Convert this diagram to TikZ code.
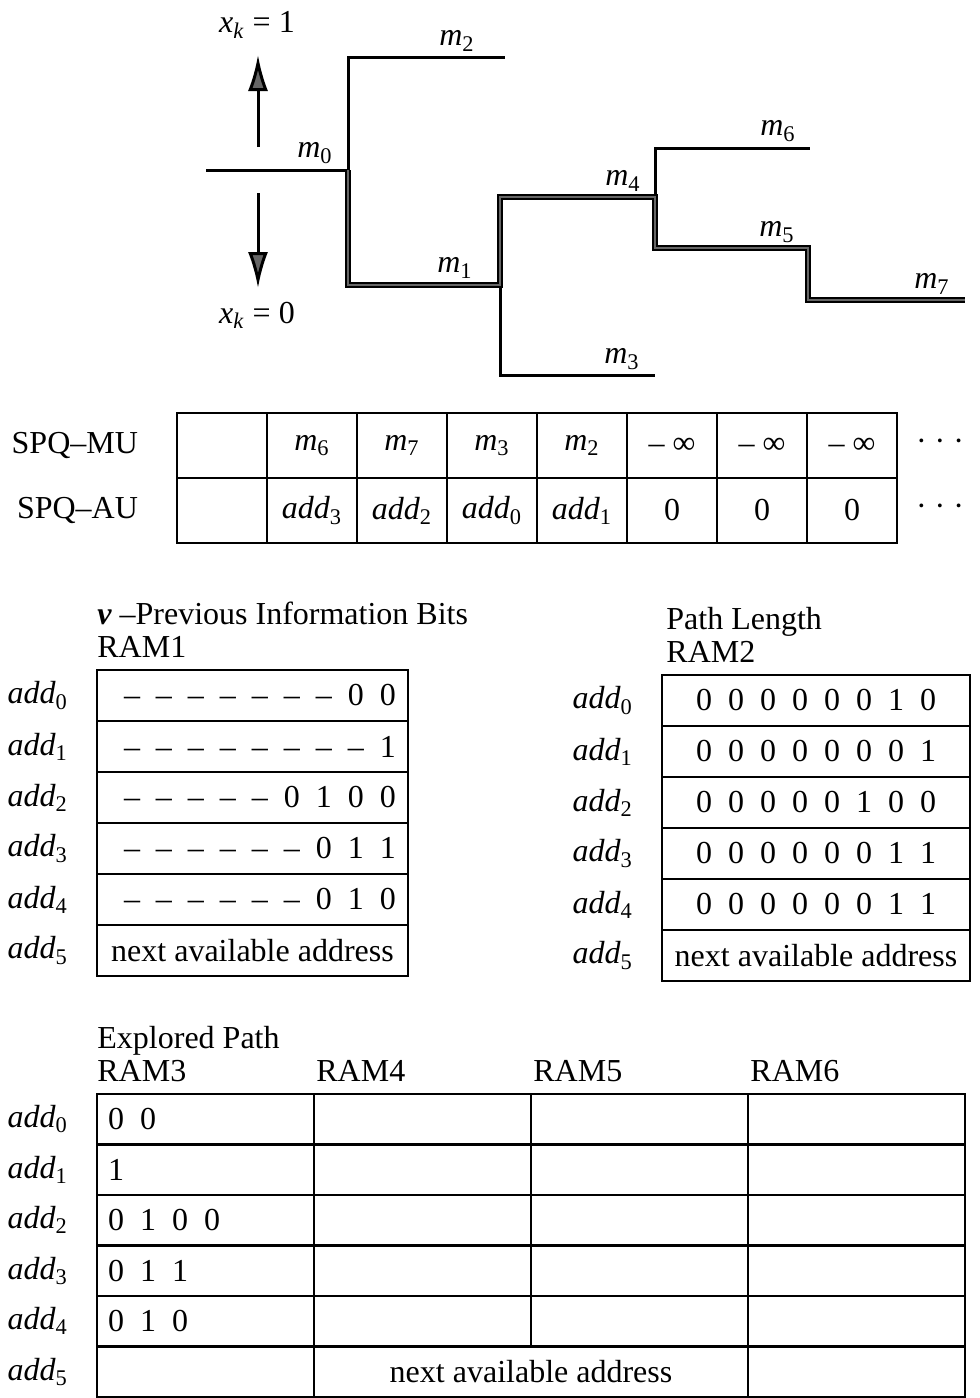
\documentclass[tikz,border=0pt]{standalone}
\usepackage{fontspec}
\setmainfont{Liberation Serif}
\usetikzlibrary{positioning,arrows.meta}
\newcommand{\ix}[2]{\textit{#1}\textsubscript{#2}}

\begin{document}
\begin{tikzpicture}[
  x=0.5pt, y=-0.5pt,
  font=\fontsize{16}{19}\selectfont,
  branch/.style={line width=1.5pt},
  survivor/.style={line width=1pt, double=black!60, double distance=0.9pt},
  dir/.style={-{Latex[length=18pt, width=10pt, fill=black!60]}, line width=1.5pt},
  bits/.style={execute at begin node={\spaceskip=#1\relax}},
  spqcell/.style={draw, line width=1.2pt, outer sep=0pt, inner sep=0pt, minimum width=45pt, minimum height=32.5pt},
  ramone/.style={draw, line width=1.2pt, outer sep=0pt, inner xsep=6pt, inner ysep=0pt, text width=143.5pt, align=right, minimum height=25.5pt},
  ramtwo/.style={draw, line width=1.2pt, outer sep=0pt, inner sep=0pt, minimum width=154pt, minimum height=25.5pt},
  ramcell/.style={draw, line width=1.2pt, outer sep=0pt, inner sep=0pt, minimum width=108.5pt, minimum height=25.25pt},
  explored/.style={ramcell, inner xsep=5.5pt, text width=97.5pt, align=left},
  head/.style={inner sep=0pt, align=left, font=\fontsize{16}{16.5}\selectfont}
]
\useasboundingbox (0,0) rectangle (980,1398);

% code tree
\coordinate (s) at (206,170);
\coordinate (j0) at (348,170);
\coordinate (j2) at (348,57);
\coordinate (e2) at (505,57);
\coordinate (j1) at (348,285);
\coordinate (k1) at (500,285);
\coordinate (k4) at (500,197);
\coordinate (k3) at (500,375);
\coordinate (e3) at (655,375);
\coordinate (n4) at (655,197);
\coordinate (n6) at (655,148);
\coordinate (e6) at (810,148);
\coordinate (n5) at (655,248);
\coordinate (p5) at (808,248);
\coordinate (p7) at (808,300);
\coordinate (e7) at (965,300);

\draw[branch] (s) -- (j0) -- (j2) -- (e2);
\draw[branch] (k1) -- (k3) -- (e3);
\draw[branch] (n4) -- (n6) -- (e6);
\draw[survivor] (j0) -- (j1) -- (k1) -- (k4) -- (n4) -- (n5) -- (p5) -- (p7) -- (e7);

\node (lm0) at (315,153) {\ix{m}{0}};
\node (lm1) at (455,268) {\ix{m}{1}};
\node (lm2) at (457,41) {\ix{m}{2}};
\node (lm3) at (622,359) {\ix{m}{3}};
\node (lm4) at (623,181) {\ix{m}{4}};
\node (lm5) at (777,232) {\ix{m}{5}};
\node (lm6) at (778,131) {\ix{m}{6}};
\node (lm7) at (932,284) {\ix{m}{7}};

\node (x1) at (257,25) {\textit{x}\textsubscript{\textit{k}} = 1};
\node (x0) at (257,315) {\textit{x}\textsubscript{\textit{k}} = 0};
\coordinate (u0) at (258,147);
\coordinate (u1) at (258,55);
\coordinate (d0) at (258,193);
\coordinate (d1) at (258,288);
\draw[dir] (u0) -- (u1);
\draw[dir] (d0) -- (d1);

% sorted path queue
\node[spqcell] (mu0) at (222,445.5) {};
\node[spqcell, right=0pt of mu0] (mu1) {\ix{m}{6}};
\node[spqcell, right=0pt of mu1] (mu2) {\ix{m}{7}};
\node[spqcell, right=0pt of mu2] (mu3) {\ix{m}{3}};
\node[spqcell, right=0pt of mu3] (mu4) {\ix{m}{2}};
\node[spqcell, right=0pt of mu4] (mu5) {– ∞};
\node[spqcell, right=0pt of mu5] (mu6) {– ∞};
\node[spqcell, right=0pt of mu6] (mu7) {– ∞};
\node[spqcell, below=0pt of mu0] (au0) {};
\node[spqcell, below=0pt of mu1] (au1) {\ix{add}{3}};
\node[spqcell, below=0pt of mu2] (au2) {\ix{add}{2}};
\node[spqcell, below=0pt of mu3] (au3) {\ix{add}{0}};
\node[spqcell, below=0pt of mu4] (au4) {\ix{add}{1}};
\node[spqcell, below=0pt of mu5] (au5) {0};
\node[spqcell, below=0pt of mu6] (au6) {0};
\node[spqcell, below=0pt of mu7] (au7) {0};
\node[left=16pt of mu0] (spqmu) {SPQ–MU};
\node[left=16pt of au0] (spqau) {SPQ–AU};
\node[right=6pt of mu7] (dotmu) {· · ·};
\node[right=6pt of au7] (dotau) {· · ·};

% RAM1
\node[ramone, bits=8pt] (r1a0) at (252.5,695.5) {– – – – – – – 0 0};
\node[ramone, bits=8pt, below=0pt of r1a0] (r1a1) {– – – – – – – – 1};
\node[ramone, bits=8pt, below=0pt of r1a1] (r1a2) {– – – – – 0 1 0 0};
\node[ramone, bits=8pt, below=0pt of r1a2] (r1a3) {– – – – – – 0 1 1};
\node[ramone, bits=8pt, below=0pt of r1a3] (r1a4) {– – – – – – 0 1 0};
\node[ramtwo, minimum width=155.5pt, below=0pt of r1a4] (r1a5) {next available address};
\node[head, above right=6pt and 0pt of r1a0.north west] (h1) {{\bfseries\itshape ν} –Previous Information Bits\\RAM1};
\node[left=11pt of r1a0] (l1a0) {\ix{add}{0}};
\node[left=11pt of r1a1] (l1a1) {\ix{add}{1}};
\node[left=11pt of r1a2] (l1a2) {\ix{add}{2}};
\node[left=11pt of r1a3] (l1a3) {\ix{add}{3}};
\node[left=11pt of r1a4] (l1a4) {\ix{add}{4}};
\node[left=11pt of r1a5] (l1a5) {\ix{add}{5}};

% RAM2
\node[ramtwo, bits=8pt] (r2a0) at (816,700.5) {0 0 0 0 0 0 1 0};
\node[ramtwo, bits=8pt, below=0pt of r2a0] (r2a1) {0 0 0 0 0 0 0 1};
\node[ramtwo, bits=8pt, below=0pt of r2a1] (r2a2) {0 0 0 0 0 1 0 0};
\node[ramtwo, bits=8pt, below=0pt of r2a2] (r2a3) {0 0 0 0 0 0 1 1};
\node[ramtwo, bits=8pt, below=0pt of r2a3] (r2a4) {0 0 0 0 0 0 1 1};
\node[ramtwo, below=0pt of r2a4] (r2a5) {next available address};
\node[head, above right=6pt and 2pt of r2a0.north west] (h2) {Path Length\\RAM2};
\node[left=11pt of r2a0] (l2a0) {\ix{add}{0}};
\node[left=11pt of r2a1] (l2a1) {\ix{add}{1}};
\node[left=11pt of r2a2] (l2a2) {\ix{add}{2}};
\node[left=11pt of r2a3] (l2a3) {\ix{add}{3}};
\node[left=11pt of r2a4] (l2a4) {\ix{add}{4}};
\node[left=11pt of r2a5] (l2a5) {\ix{add}{5}};

% RAM3 to RAM6
\node[explored, bits=8pt] (c3a0) at (205.5,1119.25) {0 0};
\node[explored, bits=8pt, below=0pt of c3a0] (c3a1) {1};
\node[explored, bits=8pt, below=0pt of c3a1] (c3a2) {0 1 0 0};
\node[explored, bits=8pt, below=0pt of c3a2] (c3a3) {0 1 1};
\node[explored, bits=8pt, below=0pt of c3a3] (c3a4) {0 1 0};
\node[explored, below=0pt of c3a4] (c3a5) {};
\node[ramcell, right=0pt of c3a0] (c4a0) {};
\node[ramcell, right=0pt of c3a1] (c4a1) {};
\node[ramcell, right=0pt of c3a2] (c4a2) {};
\node[ramcell, right=0pt of c3a3] (c4a3) {};
\node[ramcell, right=0pt of c3a4] (c4a4) {};
\node[ramcell, right=0pt of c4a0] (c5a0) {};
\node[ramcell, right=0pt of c4a1] (c5a1) {};
\node[ramcell, right=0pt of c4a2] (c5a2) {};
\node[ramcell, right=0pt of c4a3] (c5a3) {};
\node[ramcell, right=0pt of c4a4] (c5a4) {};
\node[ramcell, right=0pt of c5a0] (c6a0) {};
\node[ramcell, right=0pt of c5a1] (c6a1) {};
\node[ramcell, right=0pt of c5a2] (c6a2) {};
\node[ramcell, right=0pt of c5a3] (c6a3) {};
\node[ramcell, right=0pt of c5a4] (c6a4) {};
\node[ramcell, minimum width=217pt, right=0pt of c3a5] (c45a5) {next available address};
\node[ramcell, right=0pt of c45a5] (c6a5) {};
\node[head, above right=6pt and 0pt of c3a0.north west] (h3) {Explored Path\\RAM3};
\node[head, above right=6pt and 1pt of c4a0.north west] (h4) {RAM4};
\node[head, above right=6pt and 1pt of c5a0.north west] (h5) {RAM5};
\node[head, above right=6pt and 1pt of c6a0.north west] (h6) {RAM6};
\node[left=11pt of c3a0] (l3a0) {\ix{add}{0}};
\node[left=11pt of c3a1] (l3a1) {\ix{add}{1}};
\node[left=11pt of c3a2] (l3a2) {\ix{add}{2}};
\node[left=11pt of c3a3] (l3a3) {\ix{add}{3}};
\node[left=11pt of c3a4] (l3a4) {\ix{add}{4}};
\node[left=11pt of c3a5] (l3a5) {\ix{add}{5}};
\end{tikzpicture}
\end{document}
